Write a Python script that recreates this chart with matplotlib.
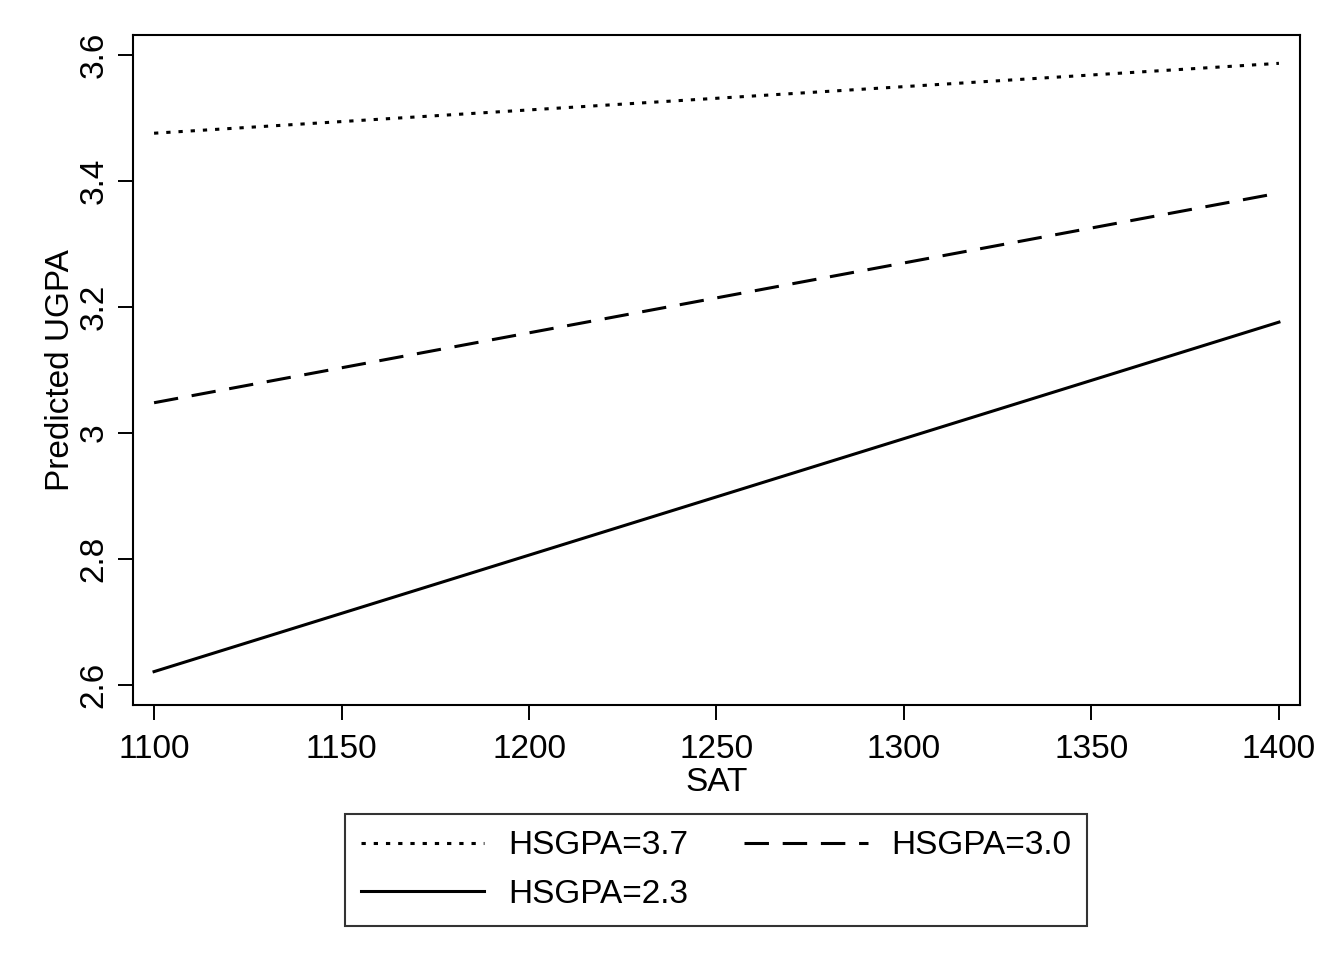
import matplotlib
matplotlib.use("Agg")
from matplotlib import pyplot as plt

plt.rcParams['font.family'] = ['Liberation Sans', 'DejaVu Sans']

sat = [1100, 1400]
ugpa_37 = [3.476, 3.587]
ugpa_30 = [3.048, 3.381]
ugpa_23 = [2.621, 3.176]

xticks = [1100, 1150, 1200, 1250, 1300, 1350, 1400]
yticks = [2.6, 2.8, 3.0, 3.2, 3.4, 3.6]
ylabels = ['2.6', '2.8', '3', '3.2', '3.4', '3.6']

fig = plt.figure(figsize=(13.36, 9.72), dpi=100)
ax = fig.add_axes([0.0996, 0.2747, 0.8734, 0.6893])

l1, = ax.plot(sat, ugpa_37, color='black', lw=2.2, linestyle=(0, (1.4, 2.6)), label='HSGPA=3.7')
l2, = ax.plot(sat, ugpa_30, color='black', lw=2.2, linestyle=(0, (8, 4.5)), label='HSGPA=3.0')
l3, = ax.plot(sat, ugpa_23, color='black', lw=2.2, label='HSGPA=2.3')

ax.set_xlim(1094.4, 1405.6)
ax.set_ylim(2.568, 3.632)
ax.set_xticks(xticks)
ax.set_yticks(yticks)
ax.set_yticklabels(ylabels, rotation=90, va='center')
ax.tick_params(axis='both', labelsize=24, length=11, width=1.4, color='black')
ax.tick_params(axis='x', pad=10)
ax.tick_params(axis='y', pad=6)
for s in ax.spines.values():
    s.set_linewidth(1.5)

ax.set_xlabel('SAT', fontsize=24, labelpad=1)
ax.set_ylabel('Predicted UGPA', fontsize=24, labelpad=2)

# legend order is column-major, so 2.3 goes second to land under 3.7
leg = fig.legend([l1, l3, l2], ['HSGPA=3.7', 'HSGPA=2.3', 'HSGPA=3.0'],
                 ncol=2, loc='center', bbox_to_anchor=(0.536, 0.105),
                 fontsize=24, frameon=True, fancybox=False, handlelength=3.7,
                 columnspacing=1.7, handletextpad=0.7, labelspacing=0.52,
                 borderpad=0.48)
leg.get_frame().set_edgecolor('black')
leg.get_frame().set_linewidth(1.5)

fig.savefig('out.png', dpi=100)
